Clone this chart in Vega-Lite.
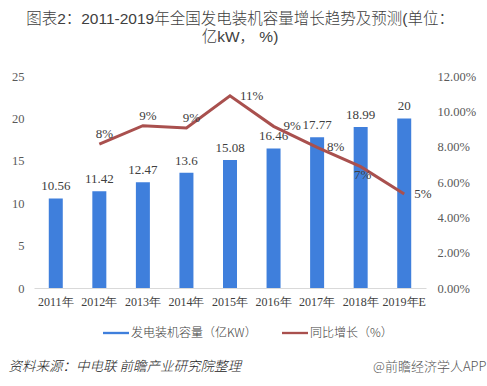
{
  "$schema": "https://vega.github.io/schema/vega-lite/v6.json",
  "autosize": {"type": "none"},
  "width": 392,
  "height": 212,
  "padding": {"left": 34, "top": 76, "right": 61, "bottom": 98},
  "background": "white",
  "config": {"view": {"stroke": null}},
  "title": {
    "text": ["图表2：2011-2019年全国发电装机容量增长趋势及预测(单位：", "亿kW， %)"],
    "font": "Liberation Sans, Noto Sans CJK SC",
    "fontSize": 15.5,
    "fontWeight": 300,
    "color": "#404040",
    "lineHeight": 17.5,
    "anchor": "middle",
    "frame": "group",
    "dx": 10,
    "offset": 25
  },
  "data": {
    "values": [
      {"year": "2011年", "cap": 10.56, "growth": null},
      {"year": "2012年", "cap": 11.42, "growth": 0.0814},
      {"year": "2013年", "cap": 12.47, "growth": 0.0919},
      {"year": "2014年", "cap": 13.6, "growth": 0.0906},
      {"year": "2015年", "cap": 15.08, "growth": 0.1088},
      {"year": "2016年", "cap": 16.46, "growth": 0.0915},
      {"year": "2017年", "cap": 17.77, "growth": 0.0796},
      {"year": "2018年", "cap": 18.99, "growth": 0.0687},
      {"year": "2019年E", "cap": 20, "growth": 0.0532}
    ]
  },
  "encoding": {
    "x": {
      "field": "year",
      "type": "nominal",
      "sort": null,
      "axis": {
        "labelAngle": 0,
        "labelFont": "Liberation Serif",
        "labelFontSize": 12,
        "labelColor": "#404040",
        "labelPadding": 8,
        "ticks": false,
        "domainColor": "#d9d9d9",
        "domainWidth": 1,
        "title": "资料来源：中电联 前瞻产业研究院整理",
        "titleFont": "Noto Sans CJK SC",
        "titleFontSize": 13.5,
        "titleFontStyle": "italic",
        "titleFontWeight": 300,
        "titleColor": "#222222",
        "titleAlign": "left",
        "titleAnchor": "start",
        "titleBaseline": "middle",
        "titleX": -26,
        "titleY": 78
      }
    }
  },
  "layer": [
    {
      "encoding": {
        "y": {
          "field": "cap",
          "type": "quantitative",
          "scale": {"domain": [0, 25]},
          "axis": {
            "values": [0, 5, 10, 15, 20, 25],
            "grid": false,
            "domain": false,
            "ticks": false,
            "labelFont": "Liberation Serif",
            "labelFontSize": 12.5,
            "labelColor": "#595959",
            "labelPadding": 10,
            "title": null
          }
        }
      },
      "layer": [
        {
          "mark": {"type": "bar", "size": 14},
          "encoding": {
            "color": {
              "datum": "发电装机容量（亿KW）",
              "scale": {
                "domain": ["发电装机容量（亿KW）", "同比增长（%）"],
                "range": ["#3f7fdc", "#a9504e"]
              },
              "legend": {
                "orient": "none",
                "legendX": 69,
                "legendY": 244,
                "direction": "horizontal",
                "title": null,
                "symbolType": "M-1,-0.09H1V0.09H-1Z",
                "symbolSize": 676,
                "symbolStrokeWidth": 0,
                "labelFont": "Noto Sans CJK SC",
                "labelFontSize": 12,
                "labelFontWeight": 300,
                "labelColor": "#404040",
                "labelOffset": 2,
                "columnPadding": 25
              }
            }
          }
        },
        {
          "mark": {"type": "text", "baseline": "bottom", "dy": -5, "font": "Liberation Serif", "fontSize": 13, "color": "#404040"},
          "encoding": {"text": {"field": "cap", "type": "quantitative"}}
        }
      ]
    },
    {
      "transform": [{"filter": "datum.growth != null"}],
      "encoding": {
        "y": {
          "field": "growth",
          "type": "quantitative",
          "scale": {"domain": [0, 0.12]},
          "axis": {
            "orient": "right",
            "values": [0, 0.02, 0.04, 0.06, 0.08, 0.1, 0.12],
            "format": ".2%",
            "grid": false,
            "domain": false,
            "ticks": false,
            "labelFont": "Liberation Serif",
            "labelFontSize": 12.5,
            "labelColor": "#595959",
            "labelPadding": 11,
            "title": "@前瞻经济学人APP",
            "titleAngle": 0,
            "titleFont": "Noto Sans CJK SC",
            "titleFontSize": 13,
            "titleFontWeight": 300,
            "titleColor": "#555555",
            "titleAlign": "right",
            "titleBaseline": "middle",
            "titleX": 60,
            "titleY": 290
          }
        }
      },
      "layer": [
        {
          "mark": {"type": "line", "strokeWidth": 3},
          "encoding": {"color": {"datum": "同比增长（%）"}}
        },
        {
          "transform": [{"filter": "datum.year == '2012年' || datum.year == '2013年' || datum.year == '2014年'"}],
          "mark": {"type": "text", "align": "center", "baseline": "middle", "dx": 5, "dy": -10, "font": "Liberation Serif", "fontSize": 13, "color": "#404040"},
          "encoding": {"text": {"field": "growth", "type": "quantitative", "format": ".0%"}}
        },
        {
          "transform": [{"filter": "datum.year == '2015年' || datum.year == '2016年' || datum.year == '2017年' || datum.year == '2019年E'"}],
          "mark": {"type": "text", "align": "left", "baseline": "middle", "dx": 10, "font": "Liberation Serif", "fontSize": 13, "color": "#404040"},
          "encoding": {"text": {"field": "growth", "type": "quantitative", "format": ".0%"}}
        },
        {
          "transform": [{"filter": "datum.year == '2018年'"}],
          "mark": {"type": "text", "align": "center", "baseline": "middle", "dx": 2, "dy": 8, "font": "Liberation Serif", "fontSize": 13, "color": "#404040"},
          "encoding": {"text": {"field": "growth", "type": "quantitative", "format": ".0%"}}
        }
      ]
    }
  ],
  "resolve": {"scale": {"y": "independent"}}
}
